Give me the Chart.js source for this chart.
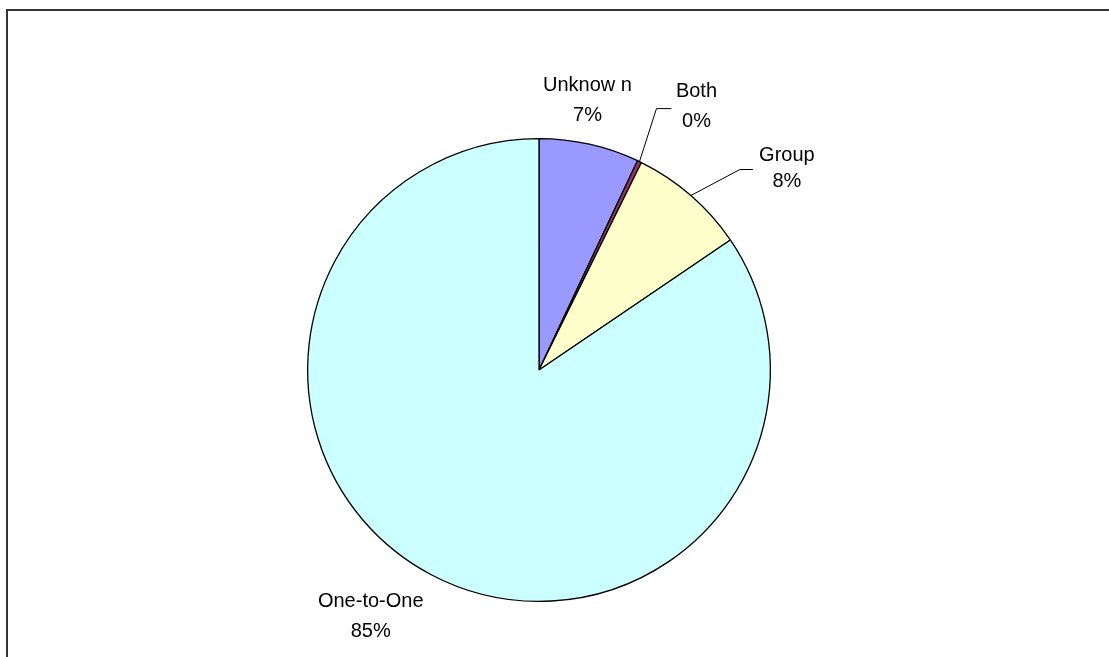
<!DOCTYPE html>
<html><head><meta charset="utf-8">
<script src="https://cdn.jsdelivr.net/npm/chart.js@4/dist/chart.umd.min.js"></script>
<style>
html,body{margin:0;padding:0;background:#fff;}
#wrap{position:relative;width:1109px;height:657px;}
#frame{position:absolute;left:6px;top:9px;width:1103px;height:648px;border-left:2px solid #333;border-top:2px solid #333;box-sizing:border-box;pointer-events:none;}
</style></head>
<body>
<div id="wrap"><canvas id="c" width="1109" height="657"></canvas><div id="frame"></div></div>
<script>
const categories = ["Unknow n", "Both", "Group", "One-to-One"];
const values = [7.0, 0.3, 8.2, 84.5];
const pctLabels = ["7%", "0%", "8%", "85%"];
const colors = ["#9999FF", "#993366", "#FFFFCC", "#CCFFFF"];

// label placement: leader points and text centre, as offsets from each slice's outer-edge midpoint
const labelCfg = [
  {leader: null, text: [-2, -44], gap: 15},
  {leader: [[17, -53], [32, -53]], text: [57, -55], gap: 15},
  {leader: [[49, -26], [62, -26]], text: [96, -27], gap: 13},
  {leader: null, text: [-60, 42], gap: 15}
];

const labelPlugin = {
  id: 'pieLabels',
  afterDatasetsDraw(chart) {
    const ctx = chart.ctx;
    const meta = chart.getDatasetMeta(0);
    ctx.save();
    ctx.font = '20px "Liberation Sans", Arial, sans-serif';
    ctx.fillStyle = '#000';
    ctx.textAlign = 'center';
    ctx.textBaseline = 'middle';
    meta.data.forEach((arc, i) => {
      const p = arc.getProps(['x','y','startAngle','endAngle','outerRadius'], true);
      const mid = (p.startAngle + p.endAngle) / 2;
      const ax = p.x + Math.cos(mid) * p.outerRadius;
      const ay = p.y + Math.sin(mid) * p.outerRadius;
      const cfg = labelCfg[i];
      if (cfg.leader) {
        ctx.beginPath();
        ctx.strokeStyle = '#000';
        ctx.lineWidth = 1;
        ctx.moveTo(ax, ay);
        cfg.leader.forEach(pt => ctx.lineTo(ax + pt[0], ay + pt[1]));
        ctx.stroke();
      }
      const tx = ax + cfg.text[0], ty = ay + cfg.text[1];
      ctx.fillText(categories[i], tx, ty - cfg.gap);
      ctx.fillText(pctLabels[i], tx, ty + cfg.gap);
    });
    ctx.restore();
  }
};

new Chart(document.getElementById('c'), {
  type: 'pie',
  data: {
    labels: categories,
    datasets: [{
      data: values,
      backgroundColor: colors,
      borderColor: '#000',
      borderWidth: 1.3
    }]
  },
  options: {
    responsive: false,
    animation: false,
    rotation: 0,
    layout: {padding: {left: 307, right: 338, top: 138, bottom: 55}},
    plugins: {legend: {display: false}, tooltip: {enabled: false}}
  },
  plugins: [labelPlugin]
});
</script>
</body></html>
